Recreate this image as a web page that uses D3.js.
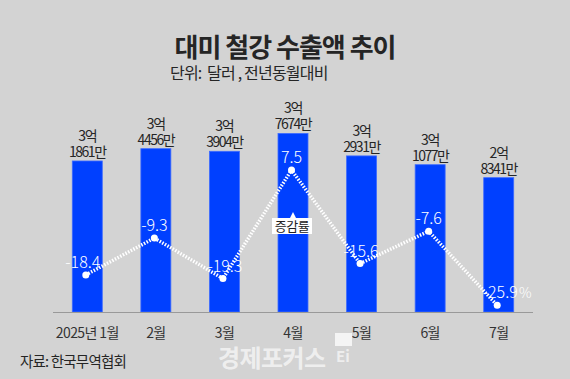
<!DOCTYPE html>
<html><head><meta charset="utf-8">
<script src="https://cdn.jsdelivr.net/npm/d3@7"></script>
<style>
html,body{margin:0;padding:0;background:#d3d3d3;}
svg{display:block;}
text{font-family:"Noto Sans CJK KR","Noto Sans",sans-serif;white-space:pre;}
</style></head>
<body>
<svg id="chart" width="570" height="379"></svg>
<script>
const months = ["2025년 1월","2월","3월","4월","5월","6월","7월"];
const exportsManwon = [31861, 34456, 33904, 37674, 32931, 31077, 28341];
const labelTop = ["3억","3억","3억","3억","3억","3억","2억"];
const labelBottom = ["1861만","4456만","3904만","7674만","2931만","1077만","8341만"];
const yoy = [-18.4, -9.3, -19.3, 7.5, -15.6, -7.6, -25.9];
const yoyLabels = ["-18.4","-9.3","-19.3","7.5","-15.6","-7.6","-25.9"];

const svg = d3.select("#chart");
svg.append("rect").attr("width",570).attr("height",379).attr("fill","#d3d3d3");

const x = d3.scaleBand().domain(months).range([53,533]).paddingInner(0.5625).paddingOuter(0.28125);
const y = d3.scaleLinear().domain([0,40000]).range([312,122.4]);
const y2 = d3.scaleLinear().domain([-30,10]).range([321.9,159.9]);
const cx = m => x(m) + x.bandwidth()/2;

// title
svg.append("text").attr("x",285).attr("y",57).attr("text-anchor","middle")
  .attr("font-size",26).attr("font-weight",700).attr("letter-spacing",-1).attr("fill","#252525")
  .text("대미 철강 수출액 추이");
svg.append("text").attr("x",170).attr("y",79)
  .attr("font-size",16).attr("letter-spacing",-0.8).attr("fill","#252525")
  .text("단위:  달러 , 전년동월대비");

// bars
svg.selectAll("rect.bar").data(exportsManwon).join("rect").attr("class","bar")
  .attr("x",(d,i)=>x(months[i])).attr("width",x.bandwidth())
  .attr("y",d=>y(d)).attr("height",d=>y(0)-y(d))
  .attr("fill","#0040ff").attr("stroke","#3f6bff").attr("stroke-width",0.8);

// bar labels (two lines in one text)
const bl = svg.selectAll("text.bl").data(exportsManwon).join("text").attr("class","bl")
  .attr("text-anchor","middle").attr("font-size",14).attr("fill","#252525");
bl.append("tspan").attr("x",(d,i)=>cx(months[i])).attr("y",d=>y(d)-20)
  .attr("letter-spacing",-1.2).text((d,i)=>labelTop[i]);
bl.append("tspan").attr("x",(d,i)=>cx(months[i])).attr("y",d=>y(d)-4)
  .attr("letter-spacing",-1.5).text((d,i)=>labelBottom[i]);

// baseline
svg.append("line").attr("x1",53).attr("x2",533).attr("y1",y(0)+0.5).attr("y2",y(0)+0.5)
  .attr("stroke","#999").attr("stroke-width",1);

// x axis labels
const xAxis = d3.axisBottom(x).tickSize(0).tickPadding(0);
const gx = svg.append("g").attr("transform",`translate(0,${y(0)})`).call(xAxis);
gx.select(".domain").remove();
gx.selectAll("text").attr("y",26).attr("dy",0).attr("font-size",14).attr("letter-spacing",-0.6)
  .attr("fill","#333").attr("font-family","'Noto Sans CJK KR',sans-serif");

// line
const px = (i) => cx(months[i]) - 1.5;
const line = d3.line().x((d,i)=>px(i)).y(d=>y2(d));
svg.append("path").datum(yoy).attr("d",line).attr("fill","none")
  .attr("stroke","#fff").attr("stroke-width",3.5).attr("stroke-dasharray","1.5,1.5");
svg.selectAll("circle.pt").data(yoy).join("circle").attr("class","pt")
  .attr("cx",(d,i)=>px(i)).attr("cy",d=>y2(d)).attr("r",3.5).attr("fill","#fff");

const lblDx = [-3,0,2,0,1,0,3];
svg.selectAll("text.yl").data(yoy).join("text").attr("class","yl")
  .attr("x",(d,i)=>px(i)+lblDx[i]).attr("y",d=>y2(d)-7)
  .attr("text-anchor","middle").attr("font-size",16).attr("font-weight",300)
  .attr("font-family","Roboto,'Noto Sans',sans-serif").attr("fill","#fff")
  .text((d,i)=>yoyLabels[i]);
svg.append("text").attr("x",519).attr("y",y2(yoy[6])-7).attr("font-size",14).attr("font-weight",300)
  .attr("font-family","Roboto,'Noto Sans',sans-serif").attr("fill","#fff").text("%");

// 증감률 callout
const cbx = cx(months[3]);
svg.append("path").attr("d",`M${cbx-3},218 L${cbx},212 L${cbx+3},218 Z`).attr("fill","#fff");
svg.append("rect").attr("x",cbx-21).attr("y",218).attr("width",40).attr("height",16).attr("fill","#fff");
svg.append("text").attr("x",cbx-1).attr("y",231).attr("text-anchor","middle")
  .attr("font-size",13).attr("letter-spacing",-0.5).attr("fill","#222").text("증감률");

// source
svg.append("text").attr("x",20).attr("y",367).attr("font-size",14.5).attr("letter-spacing",-0.8)
  .attr("fill","#252525").text("자료: 한국무역협회");

// watermark
svg.append("text").attr("x",218).attr("y",367).attr("font-size",24).attr("font-weight",700)
  .attr("letter-spacing",-0.6).attr("fill","#f2f2f2").attr("opacity",0.9).text("경제포커스");
svg.append("rect").attr("x",335).attr("y",333).attr("width",17).attr("height",13).attr("fill","#f4f4f4");
svg.append("text").attr("x",336).attr("y",362).attr("font-size",15).attr("font-weight",700)
  .attr("font-family","'DejaVu Sans',sans-serif").attr("fill","#eee").text("Ei");
</script>
</body></html>
